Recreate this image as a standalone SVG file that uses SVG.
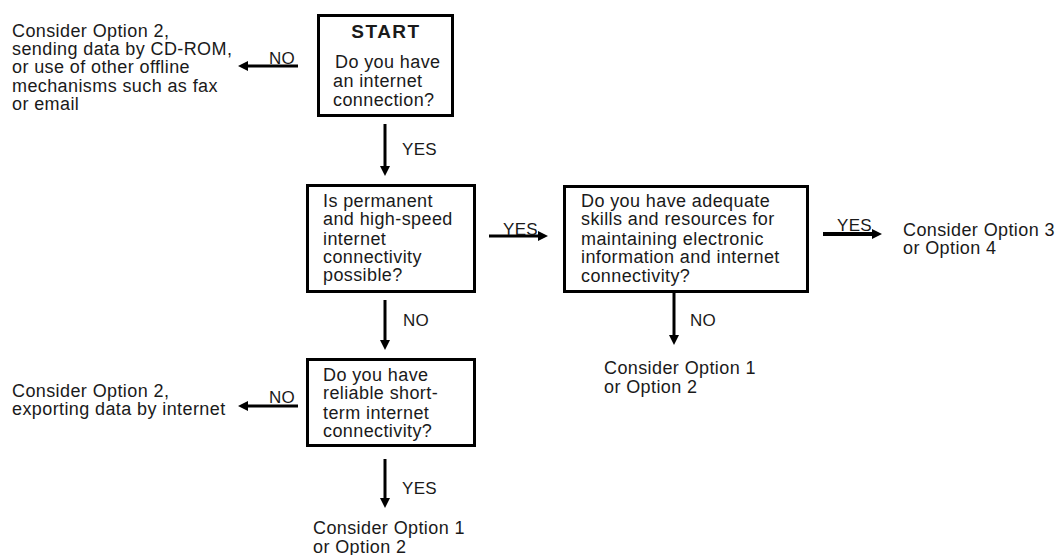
<svg xmlns="http://www.w3.org/2000/svg" width="1063" height="555" viewBox="0 0 1063 555">
<style>
text{font-family:"Liberation Sans",Arial,Helvetica,sans-serif;font-size:18px;letter-spacing:0.4px;fill:#1a1a1a}
.b{font-weight:bold;letter-spacing:1.5px;font-size:19px}
.lbl{font-size:17px;letter-spacing:0.3px}
.box{fill:#fff;stroke:#000;stroke-width:3}
.ar{stroke:#000;stroke-width:3;fill:none;marker-end:url(#ah)}
</style>
<defs>
<marker id="ah" viewBox="0 0 10 10" refX="4" refY="5" markerWidth="10" markerHeight="10" markerUnits="userSpaceOnUse" orient="auto">
<path d="M0,0 L10,5 L0,10 z" fill="#000"/>
</marker>
</defs>
<rect width="1063" height="555" fill="#fff"/>

<g id="start">
<rect class="box" x="318.5" y="15.5" width="134" height="100"/>
<text class="b" x="386" y="38" text-anchor="middle">START</text>
<text x="335" y="68">Do you have</text>
<text x="333" y="87">an internet</text>
<text x="333" y="106">connection?</text>
</g>

<g id="offline">
<text x="12" y="37">Consider Option 2,</text>
<text x="12" y="55">sending data by CD-ROM,</text>
<text x="12" y="73">or use of other offline</text>
<text x="12" y="92">mechanisms such as fax</text>
<text x="12" y="110">or email</text>
</g>

<g id="highspeed">
<rect class="box" x="307.5" y="185.5" width="167" height="106"/>
<text x="323" y="207">Is permanent</text>
<text x="323" y="225">and high-speed</text>
<text x="323" y="245">internet</text>
<text x="323" y="263">connectivity</text>
<text x="323" y="281">possible?</text>
</g>

<g id="skills">
<rect class="box" x="564.5" y="186.5" width="243" height="105"/>
<text x="581" y="207">Do you have adequate</text>
<text x="581" y="225">skills and resources for</text>
<text x="581" y="245">maintaining electronic</text>
<text x="581" y="263">information and internet</text>
<text x="581" y="282">connectivity?</text>
</g>

<g id="opt34">
<text x="903" y="236">Consider Option 3</text>
<text x="903" y="254">or Option 4</text>
</g>

<g id="opt12a">
<text x="604" y="374">Consider Option 1</text>
<text x="604" y="393">or Option 2</text>
</g>

<g id="shortterm">
<rect class="box" x="307.5" y="359.5" width="167" height="86"/>
<text x="323" y="381">Do you have</text>
<text x="323" y="399">reliable short-</text>
<text x="323" y="419">term internet</text>
<text x="323" y="437">connectivity?</text>
</g>

<g id="export">
<text x="12" y="397">Consider Option 2,</text>
<text x="12" y="415">exporting data by internet</text>
</g>

<g id="opt12b">
<text x="313" y="534">Consider Option 1</text>
<text x="313" y="553">or Option 2</text>
</g>

<g id="connectors">
<line class="ar" x1="385" y1="124" x2="385" y2="170"/>
<text class="lbl" x="402" y="155">YES</text>
<line class="ar" x1="298" y1="66" x2="244" y2="66"/>
<text class="lbl" x="269" y="64">NO</text>
<line class="ar" x1="385" y1="300" x2="385" y2="344"/>
<text class="lbl" x="403" y="326">NO</text>
<line class="ar" x1="489" y1="236" x2="542" y2="236"/>
<text class="lbl" x="503" y="235">YES</text>
<line class="ar" x1="674" y1="293" x2="674" y2="339"/>
<text class="lbl" x="690" y="326">NO</text>
<line class="ar" x1="823" y1="234" x2="876" y2="234" style="stroke-width:4"/>
<text class="lbl" x="837" y="231">YES</text>
<line class="ar" x1="298" y1="406" x2="244" y2="406"/>
<text class="lbl" x="269" y="403">NO</text>
<line class="ar" x1="385" y1="459" x2="385" y2="502"/>
<text class="lbl" x="402" y="494">YES</text>
</g>
</svg>
